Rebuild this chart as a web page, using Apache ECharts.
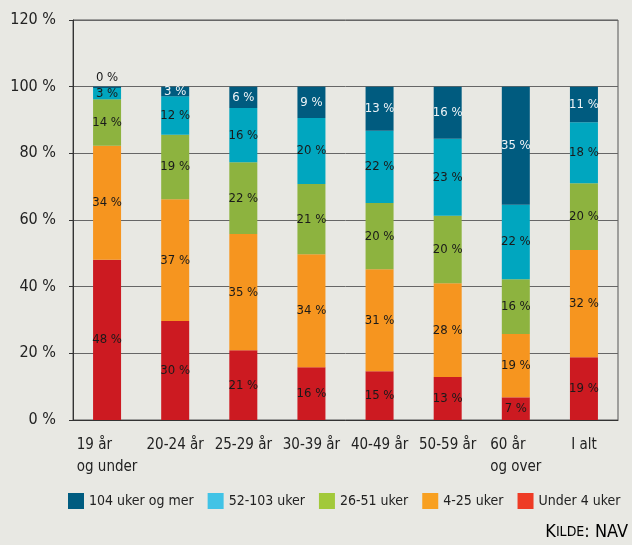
<!DOCTYPE html>
<html>
<head>
<meta charset="utf-8">
<script src="https://cdn.jsdelivr.net/npm/echarts@6/dist/echarts.min.js"></script>
<style>
  html, body { margin: 0; padding: 0; background: #e8e8e3; }
  #chart { width: 632px; height: 545px; }
</style>
</head>
<body>
<div id="chart"></div>
<script>
// aldersgrupper
const categories = ['19 år\nog under', '20-24 år', '25-29 år', '30-39 år', '40-49 år', '50-59 år', '60 år\nog over', 'I alt']
// andel i prosent per varighet (lest av søylene, etikettene er avrundet)
const under4 = [48.1, 29.7, 20.9, 15.8, 14.6, 12.9, 6.8, 18.8]
const uker4to25 = [34.2, 36.5, 34.9, 33.9, 30.6, 28.1, 19.0, 32.2]
const uker26to51 = [13.9, 19.4, 21.5, 21.1, 19.9, 20.3, 16.4, 20.0]
const uker52to103 = [3.4, 11.5, 16.3, 19.8, 21.7, 23.1, 22.4, 18.3]
const uker104 = [0.4, 2.9, 6.4, 9.4, 13.2, 15.6, 35.4, 10.7]
const yTicks = [0, 20, 40, 60, 80, 100, 120]

const font = '"DejaVu Sans Condensed", "DejaVu Sans", sans-serif'

// stabel nedenfra og opp
const groups = [
  { name: 'Under 4 uker', data: under4, color: '#cc1a21', legend: '#ee3b25', label: '#1a1a1a' },
  { name: '4-25 uker', data: uker4to25, color: '#f6951f', legend: '#f8a021', label: '#1a1a1a' },
  { name: '26-51 uker', data: uker26to51, color: '#8db33f', legend: '#a2c93a', label: '#1a1a1a' },
  { name: '52-103 uker', data: uker52to103, color: '#00a6bf', legend: '#41c3e6', label: '#1a1a1a' },
  { name: '104 uker og mer', data: uker104, color: '#005b7f', legend: '#005c80', label: '#eef3f6' }
]

const chart = echarts.init(document.getElementById('chart'))

const series = groups.map(g => ({
  name: g.name,
  type: 'bar',
  stack: 'total',
  barWidth: 28,
  itemStyle: { color: g.color },
  label: {
    show: true,
    position: 'inside',
    formatter: p => Math.round(p.value) + ' %',
    color: g.label,
    fontFamily: font,
    fontSize: 13
  },
  emphasis: { disabled: true },
  // for smale segment står etiketten over søylen
  data: g.data.map(v => v < 1 ? { value: v, label: { position: 'top', distance: 3, color: '#1a1a1a' } } : v)
}))

const option = {
  backgroundColor: '#e8e8e3',
  animation: false,
  grid: {
    left: 73,
    right: 14,
    top: 20,
    bottom: 125,
    show: true,
    borderColor: '#555',
    borderWidth: 1,
    backgroundColor: 'transparent'
  },
  legend: {
    left: 63,
    top: 488,
    itemWidth: 16,
    itemHeight: 16,
    itemGap: 14,
    icon: 'rect',
    textStyle: { fontFamily: font, fontSize: 14, color: '#222' },
    data: groups.slice().reverse().map(g => ({ name: g.name, itemStyle: { color: g.legend } }))
  },
  xAxis: {
    type: 'category',
    data: categories,
    axisLine: { lineStyle: { color: '#333', width: 1 } },
    axisTick: { length: 4, lineStyle: { color: '#333' } },
    axisLabel: {
      margin: 14,
      fontFamily: font,
      fontSize: 15,
      color: '#222',
      interval: 0,
      formatter: v => v.split('\n').map(s => '{l|' + s + '}').join('\n'),
      rich: { l: { align: 'left', fontFamily: font, fontSize: 15, lineHeight: 22, color: '#222' } }
    }
  },
  yAxis: {
    type: 'value',
    min: yTicks[0],
    max: yTicks[yTicks.length - 1],
    interval: 20,
    axisLine: { show: true, lineStyle: { color: '#333', width: 1 } },
    axisTick: { show: true, length: 4, lineStyle: { color: '#333' } },
    axisLabel: {
      margin: 17,
      fontFamily: font,
      fontSize: 16,
      color: '#222',
      formatter: '{value} %'
    },
    splitLine: { lineStyle: { color: '#666', width: 1 } }
  },
  graphic: [{
    type: 'text',
    right: 4,
    bottom: 4,
    style: {
      text: '{b|K}{s|ILDE}{b|: NAV}',
      rich: {
        b: { fontFamily: font, fontSize: 18, color: '#222' },
        s: { fontFamily: font, fontSize: 14, color: '#222' }
      }
    }
  }],
  series: series
}

chart.setOption(option)
</script>
</body>
</html>
